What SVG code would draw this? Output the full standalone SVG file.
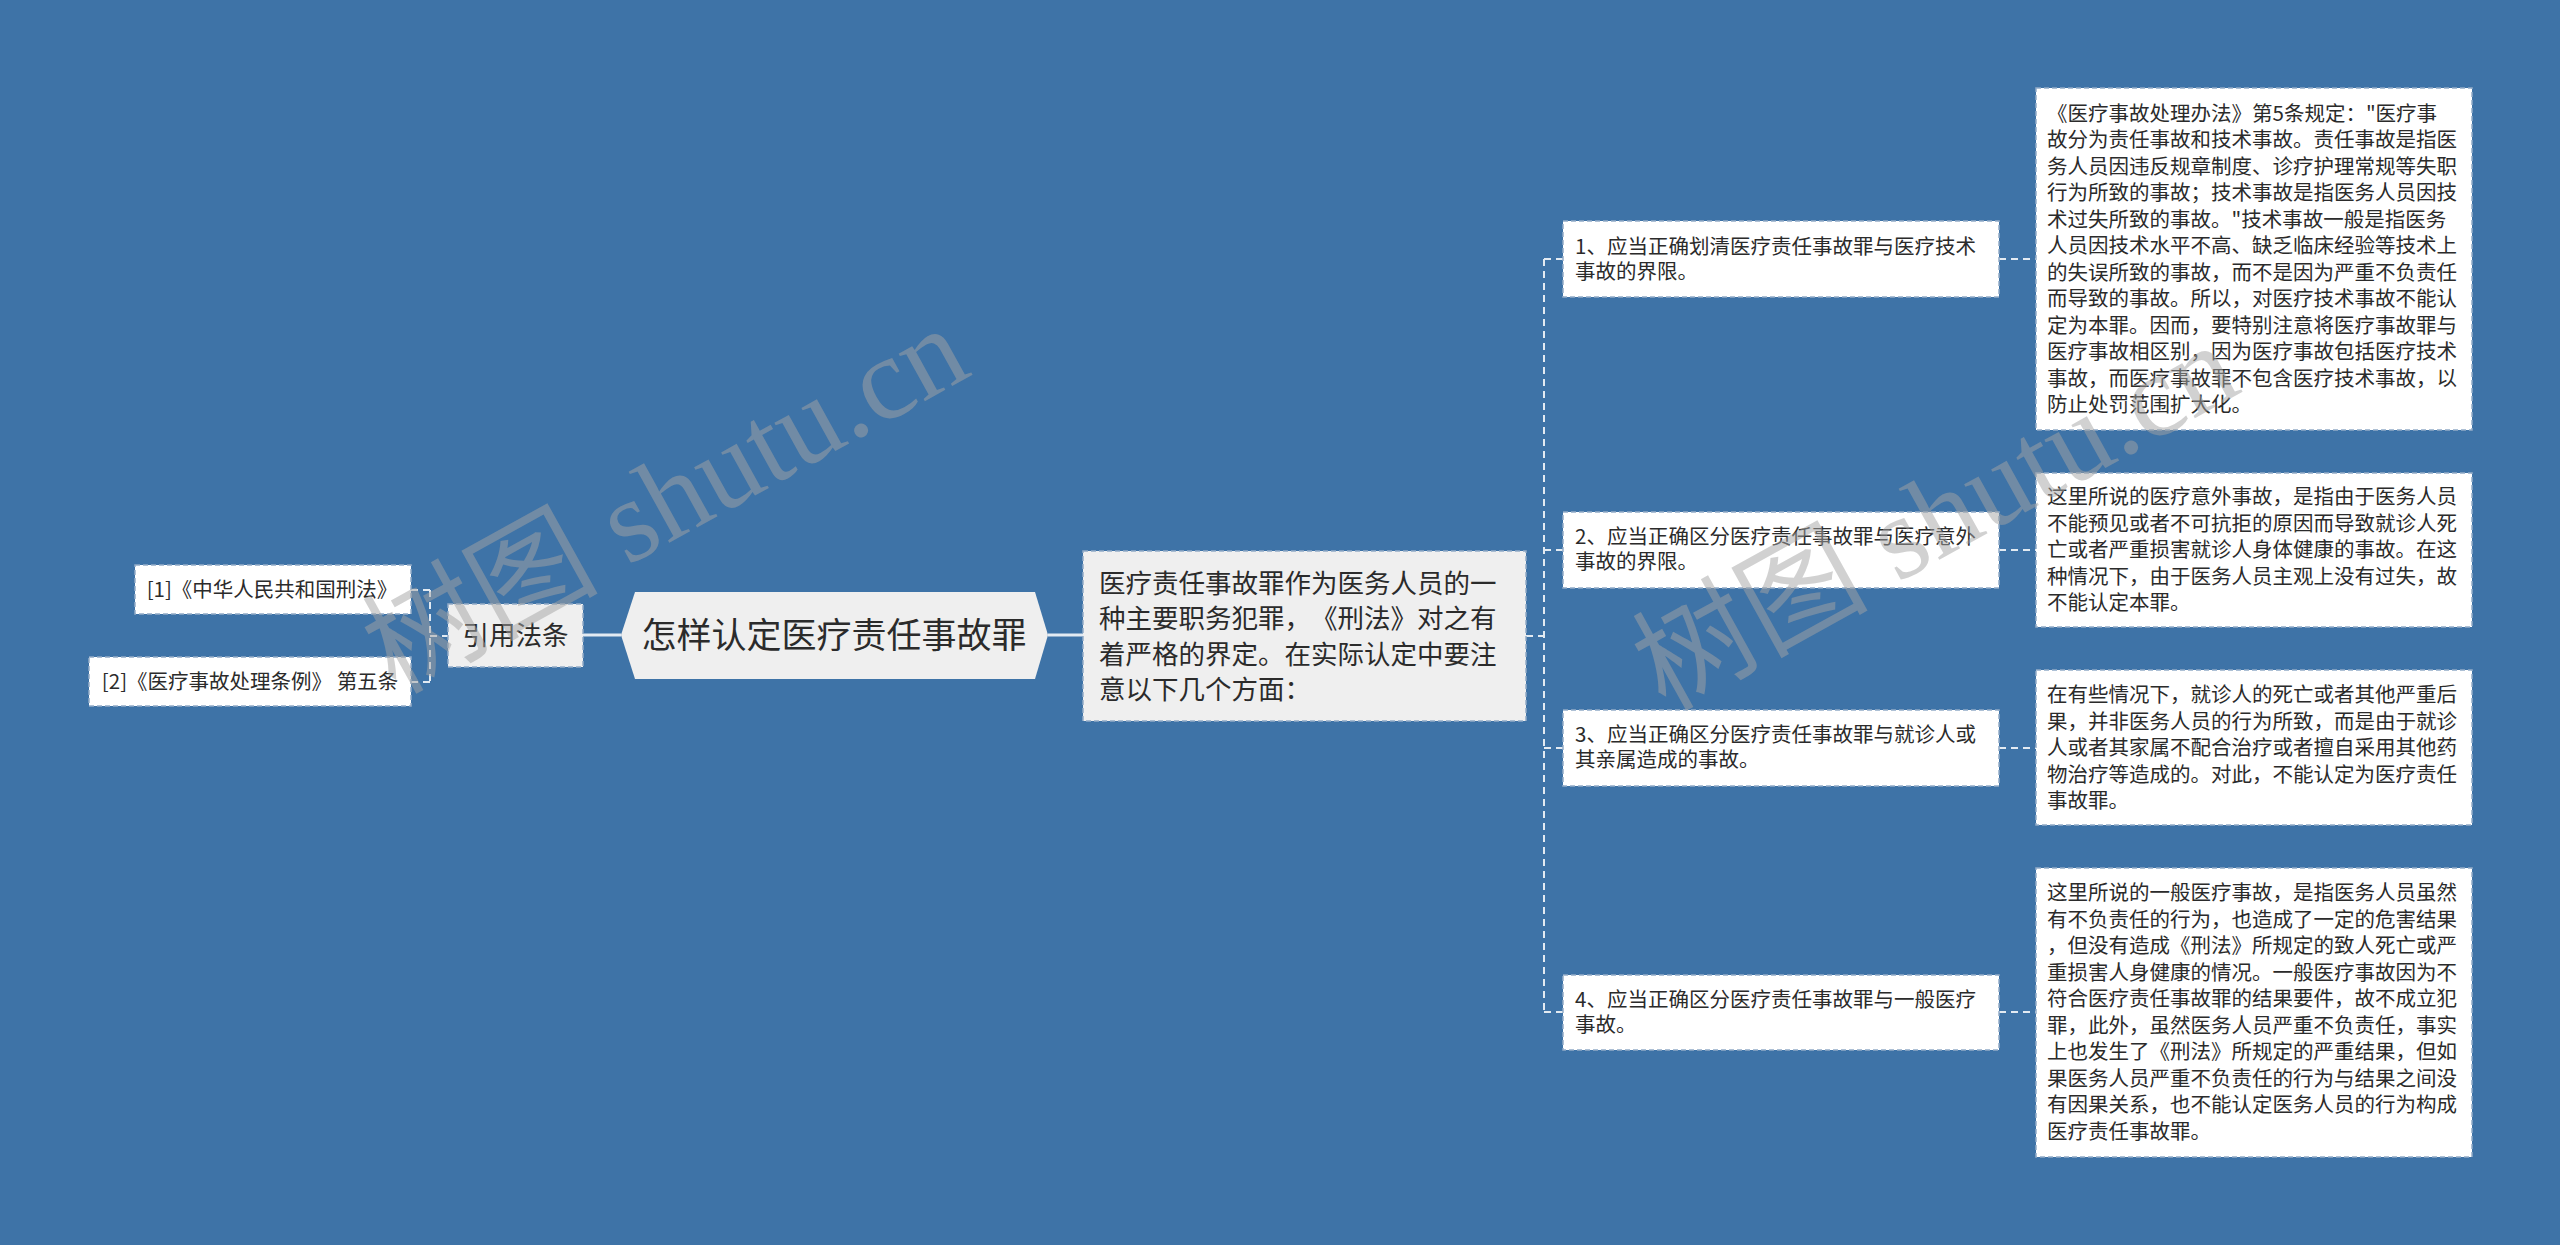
<svg xmlns="http://www.w3.org/2000/svg" width="2560" height="1245" viewBox="0 0 2560 1245">
<defs>
<style>
.bg{fill:#3e73a7}
.box{fill:#ffffff;stroke:#93acc8;stroke-width:1.5;stroke-dasharray:5 3}
.gbox{fill:#efefef;stroke:#93acc8;stroke-width:1.5;stroke-dasharray:5 3}
.t{font-family:"Noto Sans CJK SC","Noto Sans",sans-serif;fill:#2b2b2b;text-spacing-trim:space-all}
.s20{font-size:20.5px}
.s26{font-size:26.5px}
.s35{font-size:35px}
.dash{fill:none;stroke:#e2eaf2;stroke-width:2;stroke-dasharray:7 5}
.solid{fill:none;stroke:#e2eaf2;stroke-width:3}
.wm{font-family:"Liberation Serif","Noto Sans CJK SC",serif;font-size:118px;fill:#a4a4a4;fill-opacity:0.5}
</style>
</defs>
<rect class="bg" x="0" y="0" width="2560" height="1245"/>

<g id="connectors">
<path class="dash" d="M411 590 H430 M411 682 H430 M430 590 V682 M430 636 H448"/>
<path class="solid" d="M583 635 H621 M1048 635 H1083"/>
<path class="dash" d="M1526 636 H1544 M1544 259 V1012 M1544 259 H1563 M1544 550 H1563 M1544 748 H1563 M1544 1012 H1563"/>
<path class="dash" d="M1999 259 H2036 M1999 550 H2036 M1999 748 H2036 M1999 1012 H2036"/>
</g>

<g id="ref1">
<rect class="box" x="135" y="565" width="276" height="49"/>
<text class="t s20" x="272" y="597" text-anchor="middle">[1]《中华人民共和国刑法》</text>
</g>
<g id="ref2">
<rect class="box" x="89" y="657" width="322" height="49"/>
<text class="t s20" x="250" y="689" text-anchor="middle">[2]《医疗事故处理条例》 第五条</text>
</g>
<g id="cite">
<rect class="gbox" x="448" y="604" width="135" height="63"/>
<text class="t s26" x="515.5" y="645" text-anchor="middle">引用法条</text>
</g>
<g id="root">
<polygon points="621,635 635,592 1035,592 1048,635 1035,679 635,679" fill="#efefef"/>
<text class="t s35" x="834" y="648" text-anchor="middle">怎样认定医疗责任事故罪</text>
</g>
<g id="main">
<rect class="gbox" x="1083" y="551" width="443" height="170"/>
<text class="t s26" x="1099" y="592.5">医疗责任事故罪作为医务人员的一</text>
<text class="t s26" x="1099" y="628">种主要职务犯罪，《刑法》对之有</text>
<text class="t s26" x="1099" y="663.5">着严格的界定。在实际认定中要注</text>
<text class="t s26" x="1099" y="699">意以下几个方面：</text>
</g>

<g id="n1">
<rect class="box" x="1563" y="221" width="436" height="76"/>
<text class="t s20" x="1575" y="254">1、应当正确划清医疗责任事故罪与医疗技术</text>
<text class="t s20" x="1575" y="279">事故的界限。</text>
</g>
<g id="n2">
<rect class="box" x="1563" y="512" width="436" height="76"/>
<text class="t s20" x="1575" y="544">2、应当正确区分医疗责任事故罪与医疗意外</text>
<text class="t s20" x="1575" y="569">事故的界限。</text>
</g>
<g id="n3">
<rect class="box" x="1563" y="710" width="436" height="76"/>
<text class="t s20" x="1575" y="742">3、应当正确区分医疗责任事故罪与就诊人或</text>
<text class="t s20" x="1575" y="767">其亲属造成的事故。</text>
</g>
<g id="n4">
<rect class="box" x="1563" y="975" width="436" height="75"/>
<text class="t s20" x="1575" y="1007">4、应当正确区分医疗责任事故罪与一般医疗</text>
<text class="t s20" x="1575" y="1032">事故。</text>
</g>

<g id="d1">
<rect class="box" x="2036" y="88" width="436" height="342"/>
<text class="t s20" x="2047" y="120.5">《医疗事故处理办法》第5条规定："医疗事</text>
<text class="t s20" x="2047" y="147">故分为责任事故和技术事故。责任事故是指医</text>
<text class="t s20" x="2047" y="173.5">务人员因违反规章制度、诊疗护理常规等失职</text>
<text class="t s20" x="2047" y="200">行为所致的事故；技术事故是指医务人员因技</text>
<text class="t s20" x="2047" y="226.5">术过失所致的事故。"技术事故一般是指医务</text>
<text class="t s20" x="2047" y="253">人员因技术水平不高、缺乏临床经验等技术上</text>
<text class="t s20" x="2047" y="279.5">的失误所致的事故，而不是因为严重不负责任</text>
<text class="t s20" x="2047" y="306">而导致的事故。所以，对医疗技术事故不能认</text>
<text class="t s20" x="2047" y="332.5">定为本罪。因而，要特别注意将医疗事故罪与</text>
<text class="t s20" x="2047" y="359">医疗事故相区别，因为医疗事故包括医疗技术</text>
<text class="t s20" x="2047" y="385.5">事故，而医疗事故罪不包含医疗技术事故，以</text>
<text class="t s20" x="2047" y="412">防止处罚范围扩大化。</text>
</g>
<g id="d2">
<rect class="box" x="2036" y="473" width="436" height="154"/>
<text class="t s20" x="2047" y="504">这里所说的医疗意外事故，是指由于医务人员</text>
<text class="t s20" x="2047" y="530.5">不能预见或者不可抗拒的原因而导致就诊人死</text>
<text class="t s20" x="2047" y="557">亡或者严重损害就诊人身体健康的事故。在这</text>
<text class="t s20" x="2047" y="583.5">种情况下，由于医务人员主观上没有过失，故</text>
<text class="t s20" x="2047" y="610">不能认定本罪。</text>
</g>
<g id="d3">
<rect class="box" x="2036" y="670" width="436" height="155"/>
<text class="t s20" x="2047" y="702">在有些情况下，就诊人的死亡或者其他严重后</text>
<text class="t s20" x="2047" y="728.5">果，并非医务人员的行为所致，而是由于就诊</text>
<text class="t s20" x="2047" y="755">人或者其家属不配合治疗或者擅自采用其他药</text>
<text class="t s20" x="2047" y="781.5">物治疗等造成的。对此，不能认定为医疗责任</text>
<text class="t s20" x="2047" y="808">事故罪。</text>
</g>
<g id="d4">
<rect class="box" x="2036" y="868" width="436" height="289"/>
<text class="t s20" x="2047" y="900">这里所说的一般医疗事故，是指医务人员虽然</text>
<text class="t s20" x="2047" y="926.5">有不负责任的行为，也造成了一定的危害结果</text>
<text class="t s20" x="2047" y="953">，但没有造成《刑法》所规定的致人死亡或严</text>
<text class="t s20" x="2047" y="979.5">重损害人身健康的情况。一般医疗事故因为不</text>
<text class="t s20" x="2047" y="1006">符合医疗责任事故罪的结果要件，故不成立犯</text>
<text class="t s20" x="2047" y="1032.5">罪，此外，虽然医务人员严重不负责任，事实</text>
<text class="t s20" x="2047" y="1059">上也发生了《刑法》所规定的严重结果，但如</text>
<text class="t s20" x="2047" y="1085.5">果医务人员严重不负责任的行为与结果之间没</text>
<text class="t s20" x="2047" y="1112">有因果关系，也不能认定医务人员的行为构成</text>
<text class="t s20" x="2047" y="1138.5">医疗责任事故罪。</text>
</g>

<g id="watermarks">
<text class="wm" transform="translate(395,695) rotate(-29)">树图 shutu.cn</text>
<text class="wm" transform="translate(1665,712) rotate(-29)">树图 shutu.cn</text>
</g>
</svg>
